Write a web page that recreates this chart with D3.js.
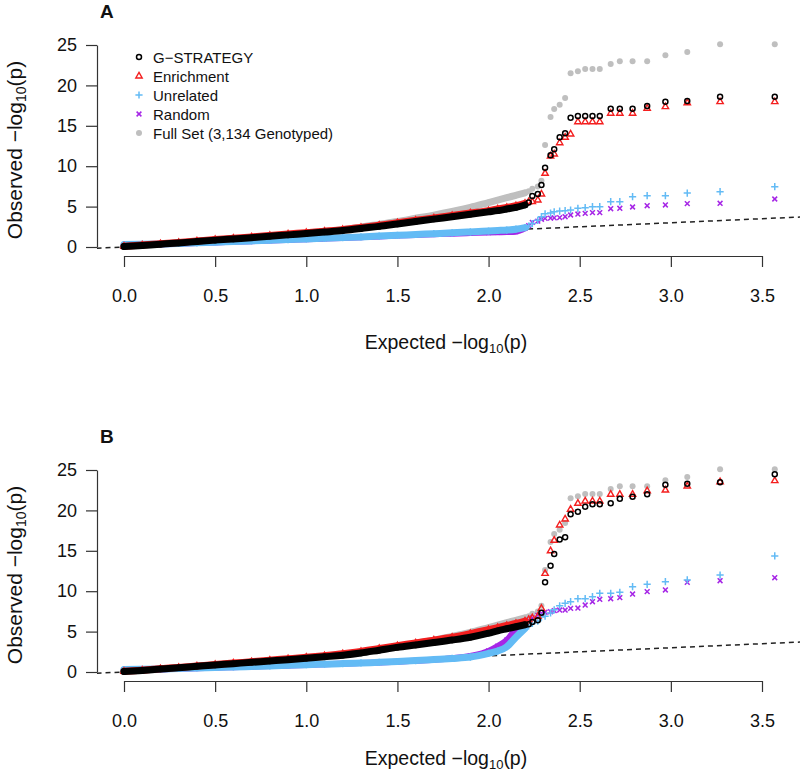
<!DOCTYPE html>
<html>
<head>
<meta charset="utf-8">
<script src="https://cdn.jsdelivr.net/npm/d3@7"></script>
<style>
  body { margin: 0; background: #fff; }
  text { font-family: "Liberation Sans", Arial, sans-serif; fill: #111; }
</style>
</head>
<body>
<script>
// expected -log10(p): dense part (read on a grid) and the separate top points
const expectedBulk = [0, 0.1, 0.2, 0.3, 0.4, 0.5, 0.6, 0.7, 0.8, 0.9, 1.0, 1.1, 1.2, 1.3, 1.4, 1.5, 1.6, 1.7, 1.8, 1.9, 2.0, 2.05, 2.1, 2.15, 2.2];
const expectedTail = [3.57, 3.27, 3.09, 2.97, 2.87, 2.79, 2.72, 2.67, 2.61, 2.57, 2.53, 2.49, 2.45, 2.42, 2.39, 2.36, 2.34, 2.31, 2.29, 2.27, 2.24, 2.22];

// full set is the same in both panels
const fullSetBulk = [0.05, 0.2, 0.35, 0.5, 0.68, 0.85, 1.0, 1.17, 1.35, 1.53, 1.72, 1.92, 2.15, 2.45, 2.8, 3.15, 3.55, 3.95, 4.4, 4.9, 5.5, 5.8, 6.1, 6.4, 6.7];
const fullSetTail = [25.09, 25.09, 24.13, 23.72, 22.98, 22.98, 22.98, 22.65, 22.03, 22.03, 22.03, 21.74, 21.5, 18.44, 17.6, 17.08, 16.09, 12.62, 8.2, 7.5, 7.2, 6.9];

// panel A
const gstratA_bulk = [0.05, 0.2, 0.35, 0.5, 0.68, 0.85, 1.0, 1.15, 1.33, 1.5, 1.68, 1.85, 2.03, 2.3, 2.55, 2.85, 3.15, 3.45, 3.75, 4.05, 4.35, 4.5, 4.7, 4.9, 5.2];
const gstratA_tail = [18.6, 18.6, 18.07, 17.99, 17.45, 17.12, 17.12, 17.12, 16.21, 16.21, 16.21, 16.21, 16.0, 14.07, 13.58, 12.09, 11.35, 9.82, 7.67, 6.56, 6.31, 5.5];
const enrichA_bulk = [0.1, 0.25, 0.4, 0.56, 0.74, 0.92, 1.08, 1.24, 1.42, 1.6, 1.78, 1.96, 2.15, 2.42, 2.7, 3.0, 3.3, 3.6, 3.9, 4.2, 4.5, 4.7, 4.9, 5.1, 5.4];
const enrichA_tail = [17.99, 17.99, 17.86, 17.37, 17.17, 16.55, 16.55, 16.55, 15.51, 15.51, 15.51, 15.51, 13.99, 13.58, 12.91, 11.51, 11.26, 9.12, 6.56, 5.82, 5.61, 5.61];
const unrelA_bulk = [0.3, 0.33, 0.38, 0.44, 0.52, 0.6, 0.68, 0.76, 0.84, 0.92, 1.0, 1.08, 1.16, 1.25, 1.35, 1.45, 1.55, 1.65, 1.75, 1.86, 1.98, 2.04, 2.1, 2.2, 2.4];
const unrelA_tail = [7.46, 6.85, 6.68, 6.35, 6.35, 6.23, 5.61, 5.61, 4.99, 4.99, 4.87, 4.79, 4.58, 4.5, 4.45, 4.35, 4.2, 4.1, 3.75, 3.3, 2.9, 2.6];
const randA_bulk = [0.22, 0.27, 0.33, 0.4, 0.48, 0.56, 0.64, 0.72, 0.8, 0.88, 0.96, 1.04, 1.12, 1.21, 1.31, 1.41, 1.5, 1.58, 1.65, 1.72, 1.8, 1.83, 1.85, 1.9, 2.3];
const randA_tail = [5.94, 5.41, 5.36, 5.2, 5.11, 4.95, 4.79, 4.74, 4.25, 4.25, 4.17, 4.08, 3.96, 3.75, 3.63, 3.6, 3.57, 3.55, 3.43, 3.2, 3.05, 2.65];

// panel B
const gstratB_bulk = [0.05, 0.2, 0.36, 0.52, 0.7, 0.87, 1.03, 1.2, 1.36, 1.52, 1.69, 1.88, 2.08, 2.35, 2.7, 3.05, 3.35, 3.65, 3.95, 4.3, 4.8, 5.1, 5.35, 5.6, 5.85];
const gstratB_tail = [24.46, 23.48, 23.3, 23.18, 21.99, 21.7, 21.45, 20.88, 20.75, 20.75, 20.46, 19.84, 19.52, 16.67, 16.4, 14.6, 13.16, 11.1, 7.34, 6.4, 6.2, 5.9];
const enrichB_bulk = [0.08, 0.22, 0.4, 0.57, 0.75, 0.93, 1.1, 1.28, 1.46, 1.64, 1.82, 2.02, 2.25, 2.55, 2.9, 3.25, 3.6, 3.95, 4.3, 4.75, 5.25, 5.5, 5.75, 6.0, 6.3];
const enrichB_tail = [23.68, 23.55, 23.02, 22.52, 22.44, 21.99, 21.99, 21.99, 21.16, 21.16, 21.16, 20.88, 20.14, 18.94, 18.19, 16.3, 15.0, 12.2, 7.88, 6.9, 6.7, 6.5];
const unrelB_bulk = [0.3, 0.33, 0.38, 0.44, 0.5, 0.56, 0.62, 0.68, 0.75, 0.82, 0.9, 0.97, 1.04, 1.12, 1.2, 1.3, 1.42, 1.55, 1.68, 1.85, 2.3, 2.6, 3.13, 4.3, 5.4];
const unrelB_tail = [14.36, 12.0, 11.39, 11.18, 10.85, 10.56, 9.86, 9.74, 9.74, 9.32, 9.07, 9.07, 8.7, 8.5, 8.2, 7.7, 7.3, 6.9, 6.8, 6.3, 6.0, 5.7];
const randB_bulk = [0.22, 0.27, 0.32, 0.4, 0.47, 0.54, 0.6, 0.66, 0.73, 0.8, 0.88, 0.95, 1.02, 1.1, 1.18, 1.28, 1.4, 1.52, 1.7, 2.0, 2.6, 3.2, 3.96, 5.35, 6.1];
const randB_tail = [11.67, 11.3, 11.1, 10.15, 9.94, 9.65, 9.2, 9.07, 9.0, 8.7, 8.29, 7.92, 7.88, 7.67, 7.67, 7.6, 7.46, 7.4, 7.26, 7.0, 6.7, 6.4];

const legendLabels = ["G\u2212STRATEGY", "Enrichment", "Unrelated", "Random", "Full Set (3,134 Genotyped)"];
const xTicks = [0, 0.5, 1, 1.5, 2, 2.5, 3, 3.5];
const yTicks = [0, 5, 10, 15, 20, 25];

const width = 800, height = 774;
const panelOffset = 425;

const svg = d3.select("body").append("svg")
    .attr("width", width)
    .attr("height", height);

const x = d3.scaleLinear().domain([0, 3.5]).range([124, 762]);

// marker shapes, R pch 1, 2, 3, 4, 16
const shapes = {
    circle: function(sel, col) {
        sel.append("circle").attr("r", 2.5).attr("fill", "none").attr("stroke", col).attr("stroke-width", 1.5);
    },
    triangle: function(sel, col) {
        sel.append("path").attr("d", "M0,-3.6L3.2,2L-3.2,2Z").attr("fill", "none").attr("stroke", col).attr("stroke-width", 1.4);
    },
    plus: function(sel, col) {
        sel.append("path").attr("d", "M-3.6,0H3.6M0,-3.6V3.6").attr("stroke", col).attr("stroke-width", 1.5);
    },
    cross: function(sel, col) {
        sel.append("path").attr("d", "M-2.4,-2.4L2.4,2.4M-2.4,2.4L2.4,-2.4").attr("stroke", col).attr("stroke-width", 1.5);
    },
    dot: function(sel, col) {
        sel.append("circle").attr("r", 3).attr("fill", col);
    }
};

const colGray = "#bfbfbf", colPurple = "#a626e6", colBlue = "#63bbf5", colRed = "#f41f1f", colBlack = "#000";

function drawPanel(offset, titleY, letter, series) {
    const y = d3.scaleLinear().domain([0, 25]).range([247 + offset, 45 + offset]);
    const g = svg.append("g");

    const clipId = "clip" + letter;
    svg.append("clipPath").attr("id", clipId)
        .append("rect")
        .attr("x", 97).attr("y", 36 + offset)
        .attr("width", width - 97).attr("height", 220);

    const plot = g.append("g").attr("clip-path", "url(#" + clipId + ")");

    // reference line y = x
    plot.append("path")
        .datum([-0.2, 3.8])
        .attr("d", d3.line().x(d => x(d)).y(d => y(d)))
        .attr("stroke", "#222")
        .attr("stroke-width", 1.5)
        .attr("stroke-dasharray", "5,4")
        .attr("fill", "none");

    const line = d3.line()
        .x(d => x(d[0]))
        .y(d => y(d[1]))
        .curve(d3.curveMonotoneX);

    series.forEach(function(s) {
        const bulk = expectedBulk.map((e, i) => [e, s.bulk[i]]);
        const tail = expectedTail.map((e, i) => [e, s.tail[i]]);

        // the dense part of the qq cloud
        plot.append("path")
            .datum(bulk)
            .attr("d", line)
            .attr("fill", "none")
            .attr("stroke", s.color)
            .attr("stroke-width", s.band)
            .attr("stroke-linecap", "round");

        plot.selectAll(null)
            .data(bulk.concat(tail))
            .enter().append("g")
            .attr("transform", d => "translate(" + x(d[0]) + "," + y(d[1]) + ")")
            .each(function() { shapes[s.shape](d3.select(this), s.color); });
    });

    // axes
    const yAxis = g.append("g")
        .attr("transform", "translate(97,0)")
        .call(d3.axisLeft(y).tickValues(yTicks).tickSize(11).tickSizeOuter(0).tickPadding(9));
    const xAxis = g.append("g")
        .attr("transform", "translate(0," + (256 + offset) + ")")
        .call(d3.axisBottom(x).tickValues(xTicks).tickFormat(d3.format(".1f"))
              .tickSize(11).tickSizeOuter(0).tickPadding(22));
    [xAxis, yAxis].forEach(function(a) {
        a.selectAll("path, line").attr("stroke", "#333").attr("stroke-width", 1.2);
        a.selectAll("text").attr("font-size", 18).attr("font-family", "Liberation Sans, Arial, sans-serif").attr("fill", "#111");
    });

    // axis titles
    const xt = g.append("text")
        .attr("x", 446).attr("y", titleY)
        .attr("text-anchor", "middle")
        .attr("font-size", 19.5);
    xt.append("tspan").text("Expected \u2212log");
    xt.append("tspan").attr("font-size", 13).attr("dy", 3.5).text("10");
    xt.append("tspan").attr("dy", -3.5).text("(p)");

    const yt = g.append("text")
        .attr("transform", "translate(22," + (150 + offset) + ") rotate(-90)")
        .attr("text-anchor", "middle")
        .attr("font-size", 21);
    yt.append("tspan").text("Observed \u2212log");
    yt.append("tspan").attr("font-size", 14).attr("dy", 4).text("10");
    yt.append("tspan").attr("dy", -4).text("(p)");

    g.append("text")
        .attr("x", 100).attr("y", 18 + offset)
        .attr("font-size", 19)
        .attr("font-weight", "bold")
        .text(letter);
}

const seriesA = [
    {bulk: fullSetBulk, tail: fullSetTail, color: colGray, shape: "dot", band: 7},
    {bulk: randA_bulk, tail: randA_tail, color: colPurple, shape: "cross", band: 6},
    {bulk: unrelA_bulk, tail: unrelA_tail, color: colBlue, shape: "plus", band: 7},
    {bulk: enrichA_bulk, tail: enrichA_tail, color: colRed, shape: "triangle", band: 7},
    {bulk: gstratA_bulk, tail: gstratA_tail, color: colBlack, shape: "circle", band: 7}
];
const seriesB = [
    {bulk: fullSetBulk, tail: fullSetTail, color: colGray, shape: "dot", band: 7},
    {bulk: randB_bulk, tail: randB_tail, color: colPurple, shape: "cross", band: 6},
    {bulk: unrelB_bulk, tail: unrelB_tail, color: colBlue, shape: "plus", band: 7},
    {bulk: enrichB_bulk, tail: enrichB_tail, color: colRed, shape: "triangle", band: 7},
    {bulk: gstratB_bulk, tail: gstratB_tail, color: colBlack, shape: "circle", band: 7}
];

drawPanel(0, 349, "A", seriesA);
drawPanel(panelOffset, 765, "B", seriesB);

// legend (panel A only)
const legendShapes = ["circle", "triangle", "plus", "cross", "dot"];
const legendColors = [colBlack, colRed, colBlue, colPurple, colGray];
const legend = svg.append("g");
legendLabels.forEach(function(lab, i) {
    const row = legend.append("g").attr("transform", "translate(139," + (57 + i * 19) + ")");
    shapes[legendShapes[i]](row, legendColors[i]);
    row.append("text")
        .attr("x", 14).attr("y", 5.5)
        .attr("font-size", 15)
        .text(lab);
});
</script>
</body>
</html>
